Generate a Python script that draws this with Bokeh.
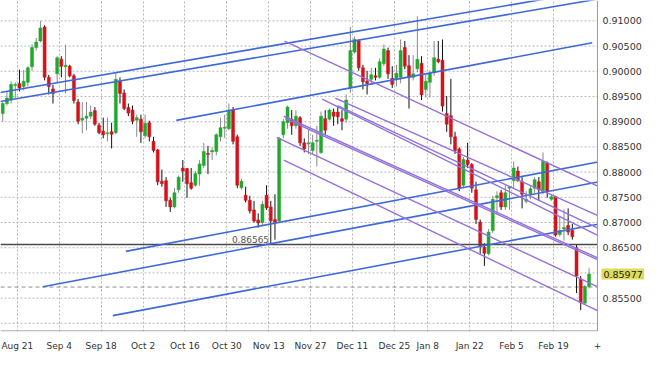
import numpy as np
from bokeh.plotting import figure
from bokeh.models import FixedTicker, Range1d, Label, ColumnDataSource
from bokeh.embed import file_html
from bokeh.resources import INLINE
from bokeh.core.properties import value

# ---- data (daily candles, index 0 = Aug 21) ----
day_index = list(range(-4, 137))
opens = [0.8916,0.8936,0.8943,0.8972,0.8976,0.8970,0.8978,0.9009,0.9047,0.9060,0.9088,0.8988,0.8965,0.8995,0.9024,0.9009,0.9010,0.8991,0.8939,0.8903,
         0.8907,0.8911,0.8922,0.8893,0.8881,0.8876,0.8880,0.8878,0.8980,0.8957,0.8928,0.8923,0.8903,0.8905,0.8872,0.8898,0.8861,0.8844,0.8782,0.8783,
         0.8744,0.8731,0.8765,0.8808,0.8807,0.8779,0.8774,0.8796,0.8813,0.8837,0.8840,0.8841,0.8870,0.8887,0.8886,0.8923,0.8870,0.8769,0.8754,0.8744,
         0.8725,0.8705,0.8700,0.8754,0.8731,0.8706,0.8703,0.8874,0.8898,0.8905,0.8892,0.8908,0.8858,0.8856,0.8843,0.8861,0.8839,0.8906,0.8905,0.8919,
         0.8919,0.8906,0.8905,0.8967,0.9038,0.9061,0.9007,0.8980,0.8984,0.8991,0.8988,0.9015,0.9041,0.8986,0.8985,0.8988,0.9047,0.9011,0.8988,0.9005,
         0.9016,0.8964,0.8978,0.8998,0.9024,0.9022,0.8916,0.8912,0.8870,0.8846,0.8774,0.8824,0.8815,0.8765,0.8701,0.8651,0.8638,0.8684,0.8749,0.8759,
         0.8731,0.8768,0.8783,0.8802,0.8781,0.8742,0.8757,0.8768,0.8781,0.8761,0.8818,0.8746,0.8751,0.8676,0.8687,0.8694,0.8684,0.8650,0.8588,0.8540,
         0.8573]
highs = [0.8939,0.8959,0.8980,0.8978,0.9003,0.9003,0.9010,0.9053,0.9066,0.9100,0.9091,0.8993,0.8973,0.9030,0.9030,0.9053,0.9013,0.8995,0.8945,0.8939,
         0.8939,0.8932,0.8929,0.8898,0.8908,0.8908,0.8898,0.8996,0.8988,0.8964,0.8936,0.8932,0.8914,0.8914,0.8914,0.8902,0.8870,0.8846,0.8805,0.8790,
         0.8749,0.8768,0.8793,0.8824,0.8808,0.8808,0.8802,0.8824,0.8858,0.8852,0.8850,0.8877,0.8908,0.8914,0.8936,0.8929,0.8874,0.8787,0.8771,0.8753,
         0.8743,0.8718,0.8743,0.8774,0.8743,0.8756,0.8870,0.8905,0.8932,0.8923,0.8923,0.8911,0.8867,0.8886,0.8874,0.8892,0.8920,0.8923,0.8926,0.8926,
         0.8929,0.8923,0.8954,0.9088,0.9069,0.9063,0.9013,0.9001,0.9007,0.9007,0.9026,0.9053,0.9047,0.9010,0.9013,0.9063,0.9060,0.9032,0.9032,0.9109,
         0.9030,0.8995,0.9001,0.9060,0.9060,0.9063,0.8951,0.8985,0.8880,0.8849,0.8830,0.8858,0.8818,0.8781,0.8706,0.8659,0.8687,0.8753,0.8762,0.8765,
         0.8774,0.8771,0.8821,0.8811,0.8790,0.8762,0.8774,0.8790,0.8790,0.8839,0.8821,0.8756,0.8753,0.8712,0.8726,0.8728,0.8697,0.8656,0.8594,0.8576,
         0.8610]
lows = [0.8900,0.8932,0.8936,0.8947,0.8960,0.8962,0.8970,0.9001,0.9041,0.9057,0.8982,0.8954,0.8936,0.8978,0.8988,0.8956,0.8988,0.8936,0.8895,0.8877,
        0.8883,0.8905,0.8892,0.8875,0.8867,0.8861,0.8847,0.8875,0.8936,0.8923,0.8911,0.8895,0.8870,0.8858,0.8867,0.8861,0.8839,0.8774,0.8771,0.8731,
        0.8721,0.8728,0.8759,0.8781,0.8749,0.8765,0.8771,0.8773,0.8808,0.8796,0.8824,0.8833,0.8861,0.8867,0.8883,0.8855,0.8768,0.8765,0.8740,0.8718,
        0.8700,0.8690,0.8694,0.8725,0.86565,0.8666,0.8700,0.8867,0.8886,0.8874,0.8886,0.8852,0.8839,0.8836,0.8836,0.8811,0.8836,0.8874,0.8902,0.8892,
        0.8895,0.8883,0.8898,0.8957,0.9035,0.9001,0.8964,0.8954,0.8976,0.8982,0.8985,0.9010,0.8985,0.8967,0.8970,0.8976,0.9004,0.8926,0.8982,0.8998,
        0.8943,0.8948,0.8948,0.8991,0.9016,0.8920,0.8880,0.8855,0.8836,0.8762,0.8768,0.8808,0.8759,0.8697,0.8638,0.8614,0.8635,0.8679,0.8716,0.8725,
        0.8725,0.8725,0.8768,0.8781,0.8728,0.8738,0.8746,0.8759,0.8743,0.8756,0.8749,0.8743,0.8672,0.8672,0.8664,0.8675,0.8666,0.8560,0.8526,0.8537,
        0.8569]
closes = [0.8936,0.8947,0.8974,0.8974,0.8967,0.8980,0.9007,0.9047,0.9058,0.9086,0.8988,0.8970,0.8956,0.9027,0.9010,0.9012,0.8991,0.8942,0.8901,0.8907,
          0.8911,0.8919,0.8895,0.8878,0.8874,0.8878,0.8875,0.8984,0.8956,0.8926,0.8917,0.8901,0.8908,0.8880,0.8897,0.8870,0.8843,0.8781,0.8777,0.8743,
          0.8731,0.8759,0.8790,0.8802,0.8777,0.8768,0.8797,0.8816,0.8841,0.8835,0.8843,0.8874,0.8888,0.8889,0.8923,0.8861,0.8774,0.8782,0.8744,0.8723,
          0.8703,0.8699,0.8736,0.8729,0.8703,0.8700,0.8867,0.8900,0.8929,0.8892,0.8911,0.8858,0.8846,0.8858,0.8858,0.8863,0.8911,0.8883,0.8923,0.8911,
          0.8910,0.8901,0.8943,0.9041,0.9063,0.9007,0.8979,0.8976,0.8993,0.8988,0.9019,0.9044,0.8995,0.8974,0.8996,0.9041,0.9010,0.8988,0.8995,0.9024,
          0.8953,0.8980,0.8996,0.9027,0.9019,0.8931,0.8895,0.8870,0.8843,0.8768,0.8825,0.8815,0.8768,0.8706,0.8653,0.8639,0.8681,0.8746,0.8753,0.8731,
          0.8759,0.8771,0.8808,0.8783,0.8756,0.8746,0.8767,0.8785,0.8765,0.8821,0.8762,0.8751,0.8675,0.8684,0.8690,0.8681,0.8672,0.8594,0.8541,0.8573,
          0.85977]

tick_pos = [-0.5, 9.5, 19.5, 29.5, 39.5, 49.5, 59.5, 69.5, 79.5, 89.5, 97.5, 107.5, 117.5, 127.5]
tick_labels = ["Aug 21", "Sep 4", "Sep 18", "Oct 2", "Oct 16", "Oct 30", "Nov 13", "Nov 27",
               "Dec 11", "Dec 25", "Jan 8", "Jan 22", "Feb 5", "Feb 19"]
price_ticks = [0.855, 0.865, 0.870, 0.875, 0.880, 0.885, 0.890, 0.895, 0.900, 0.905, 0.910]
price_tick_labels = ["0.85500", "0.86500", "0.87000", "0.87500", "0.88000", "0.88500",
                     "0.89000", "0.89500", "0.90000", "0.90500", "0.91000"]
grid_ticks = [0.850, 0.855, 0.860, 0.865, 0.870, 0.875, 0.880, 0.885, 0.890, 0.895, 0.900, 0.905, 0.910]

support_level = 0.86565
last_price = 0.85977
open_level = 0.8572

# blue trend lines (x0, y0, x1, y1)
blue_x0 = [-4.6, -4.6, 37.45, 25.39, 5.57, 22.29]
blue_y0 = [0.8958, 0.8940, 0.89026, 0.86427, 0.85725, 0.85153]
blue_x1 = [140.0, 140.0, 136.75, 140.0, 140.0, 140.0]
blue_y1 = [0.9164, 0.9146, 0.90566, 0.88229, 0.87834, 0.86996]

# purple channel lines (x0, y0, x1, y1)
purple_x0 = [63.27, 72.28, 75.41, 75.94, 61.41, 63.11, 63.51, 63.11]
purple_y0 = [0.90598, 0.89449, 0.89468, 0.89319, 0.88691, 0.89108, 0.89058, 0.88239]
purple_x1 = [140.0, 140.0, 140.0, 140.0, 140.0, 140.0, 140.0, 140.0]
purple_y1 = [0.87646, 0.86666, 0.87065, 0.86814, 0.85650, 0.86225, 0.86190, 0.85171]

X_LEFT, X_AXIS, X_RIGHT = -4.53, 138.0, 149.23
Y_BOT, Y_TOP = 0.8485, 0.91404

# ---- figure ----
p = figure(width=644, height=353, output_backend="svg", toolbar_location=None,
           x_range=Range1d(X_LEFT, X_RIGHT), y_range=Range1d(0.84838, Y_TOP),
           y_axis_location=None, min_border_left=0, min_border_top=0,
           min_border_right=0, min_border_bottom=18)
p.outline_line_color = None
p.background_fill_color = "white"
p.border_fill_color = "white"

ax = p.xaxis[0]
ax.axis_line_color = None
ax.major_tick_line_color = None
ax.minor_tick_line_color = None
ax.major_label_text_font = "DejaVu Sans"
ax.major_label_text_color = "#333333"
ax.major_label_text_font_size = "9px"
ax.major_label_standoff = 3
ax.ticker = FixedTicker(ticks=tick_pos + [X_AXIS])
overrides = {t: l for t, l in zip(tick_pos, tick_labels)}
overrides[X_AXIS] = "+"
ax.major_label_overrides = overrides

p.xgrid.ticker = FixedTicker(ticks=tick_pos)
p.xgrid.grid_line_color = "#b8b8b8"
p.xgrid.grid_line_dash = "2 2"
p.ygrid.visible = False

# horizontal dotted grid (chart area only)
p.segment(x0=[X_LEFT] * len(grid_ticks), y0=grid_ticks, x1=[X_AXIS] * len(grid_ticks),
          y1=grid_ticks, line_color="#b8b8b8", line_dash="2 2", line_width=1)

up_col, dn_col = "#22a82e", "#d0141c"
colors = [up_col if c >= o else dn_col for o, c in zip(opens, closes)]
wick_cols = ["#8a8a8a" if c >= o else "#111111" for o, c in zip(opens, closes)]
src = ColumnDataSource(dict(x=day_index, o=opens, h=highs, l=lows, c=closes,
                            col=colors, wcol=wick_cols))

# dashed open level
p.segment(x0=[X_LEFT], y0=[open_level], x1=[X_AXIS], y1=[open_level],
          line_color="#8c8c8c", line_dash="4 3", line_width=1)

p.segment(x0="x", y0="h", x1="x", y1="l", source=src, line_color="wcol", line_width=1)
p.vbar(x="x", width=0.72, top="o", bottom="c", source=src, fill_color="col",
       line_color="col", line_width=0.5)

# support line
p.segment(x0=[X_LEFT], y0=[support_level], x1=[X_AXIS], y1=[support_level],
          line_color="#4a4a4a", line_width=1.6)

p.segment(x0=blue_x0, y0=blue_y0, x1=blue_x1, y1=blue_y1, line_color="#3f68d8",
          line_width=1.6)
p.segment(x0=purple_x0, y0=purple_y0, x1=purple_x1, y1=purple_y1, line_color="#9370db",
          line_width=1.4)

# white mask over the label area so lines stop at the axis
p.quad(left=[X_AXIS], right=[X_RIGHT], bottom=[0.84838], top=[Y_TOP],
       fill_color="white", line_color=None)

# axis lines
p.segment(x0=[X_AXIS], y0=[Y_BOT], x1=[X_AXIS], y1=[Y_TOP], line_color="#9a9a9a", line_width=1)
p.segment(x0=[X_LEFT], y0=[Y_BOT], x1=[X_AXIS], y1=[Y_BOT], line_color="#9a9a9a", line_width=1)

# price labels
p.text(x=[X_AXIS] * len(price_ticks), y=price_ticks, text=price_tick_labels,
       x_offset=5, text_baseline="middle", text_align="left",
       text_font=value("DejaVu Sans"), text_font_size="9.5px", text_color="#333333")

p.add_layout(Label(x=59.6, y=support_level, text="0.86565", text_align="right",
                   text_baseline="bottom", y_offset=1, text_font="DejaVu Sans",
                   text_font_size="9px", text_color="#555555"))
p.add_layout(Label(x=X_AXIS, y=last_price, text="0.85977", text_align="left",
                   text_baseline="middle", x_offset=4, text_font="DejaVu Sans",
                   text_font_size="9.5px", text_color="#222222",
                   background_fill_color="#dcdc5a", padding=2))

open("out.html", "w").write(file_html(p, INLINE))
